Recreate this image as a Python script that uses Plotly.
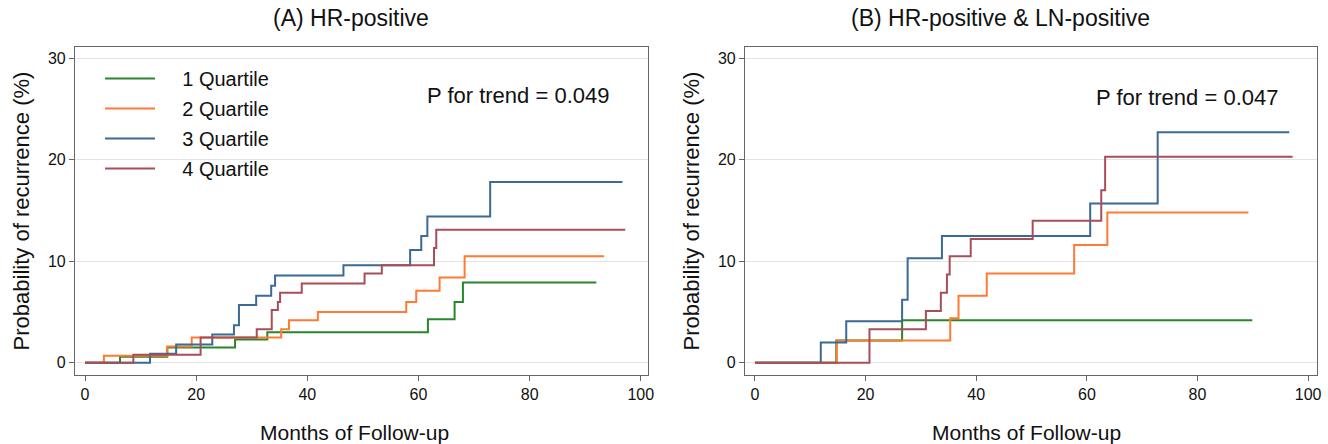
import plotly.graph_objects as go

# ---------------- data ----------------
series_names = ["1 Quartile", "2 Quartile", "3 Quartile", "4 Quartile"]
series_colors = ["#2a862a", "#ff7a33", "#3a6a96", "#a84e58"]

# Panel A: HR-positive  (event times in months, cumulative recurrence %)
a_q1_t = [0, 6.3, 14.8, 27.0, 32.8, 61.7, 66.5, 68.0]
a_q1_v = [0, 0.6, 1.5, 2.3, 3.0, 4.3, 6.0, 7.9]
a_q1_end = 92.0
a_q2_t = [0, 3.4, 14.8, 19.2, 35.3, 36.7, 41.9, 57.8, 59.6, 63.8, 68.3]
a_q2_v = [0, 0.7, 1.6, 2.5, 3.3, 4.2, 5.0, 6.0, 7.1, 8.4, 10.5]
a_q2_end = 93.4
a_q3_t = [0, 11.7, 16.4, 22.9, 26.8, 27.7, 30.8, 33.5, 34.2, 46.5, 58.5, 60.5, 61.6, 72.9]
a_q3_v = [0, 0.9, 1.8, 2.8, 3.7, 5.7, 6.6, 7.6, 8.6, 9.6, 11.1, 12.5, 14.4, 17.8]
a_q3_end = 96.7
a_q4_t = [0, 8.7, 20.8, 30.9, 33.6, 34.7, 35.1, 39.0, 50.3, 53.4, 62.8, 63.2]
a_q4_v = [0, 0.8, 2.5, 3.3, 5.2, 6.0, 6.9, 7.8, 8.8, 9.6, 11.3, 13.1]
a_q4_end = 97.2

# Panel B: HR-positive & LN-positive
b_q1_t = [0, 14.7, 26.6]
b_q1_v = [0, 2.2, 4.2]
b_q1_end = 89.9
b_q2_t = [0, 14.8, 35.3, 36.8, 41.9, 57.7, 63.7]
b_q2_v = [0, 2.2, 4.4, 6.6, 8.8, 11.6, 14.8]
b_q2_end = 89.2
b_q3_t = [0, 11.9, 16.5, 26.6, 27.6, 33.8, 60.6, 72.8]
b_q3_v = [0, 2.0, 4.1, 6.2, 10.3, 12.5, 15.7, 22.7]
b_q3_end = 96.6
b_q4_t = [0, 20.7, 30.9, 33.6, 34.7, 35.2, 39.0, 50.2, 62.6, 63.3]
b_q4_v = [0, 3.3, 5.1, 6.9, 8.7, 10.5, 12.2, 14.0, 17.0, 20.3]
b_q4_end = 97.2

panel_titles = ["(A) HR-positive", "(B) HR-positive & LN-positive"]
p_texts = ["P for trend = 0.049", "P for trend = 0.047"]
x_ticks = [0, 20, 40, 60, 80, 100]
y_ticks = [0, 10, 20, 30]
x_title = "Months of Follow-up"
y_title = "Probability of recurrence (%)"

panel_a = [(a_q1_t, a_q1_v, a_q1_end), (a_q2_t, a_q2_v, a_q2_end),
           (a_q3_t, a_q3_v, a_q3_end), (a_q4_t, a_q4_v, a_q4_end)]
panel_b = [(b_q1_t, b_q1_v, b_q1_end), (b_q2_t, b_q2_v, b_q2_end),
           (b_q3_t, b_q3_v, b_q3_end), (b_q4_t, b_q4_v, b_q4_end)]

FONT = "Liberation Sans, Arial, sans-serif"
TXT = "#111111"
NBSP = "\u00a0"
fig = go.Figure()

for pi, (panel, xa, ya) in enumerate([(panel_a, "x", "y"), (panel_b, "x2", "y2")]):
    for si, (t, v, end) in enumerate(panel):
        fig.add_trace(go.Scatter(
            x=list(t) + [end], y=list(v) + [v[-1]],
            mode="lines", line=dict(color=series_colors[si], width=2, shape="hv"),
            name=NBSP * 4 + series_names[si], legendgroup=series_names[si],
            showlegend=(pi == 0), xaxis=xa, yaxis=ya, hoverinfo="skip"))

W, H = 1328, 444
left_dom = [75 / W, 648 / W]
right_dom = [745 / W, 1317 / W]
y_dom = [1 - 375 / H, 1 - 47 / H]

axis_common = dict(showline=True, linecolor="#666666", linewidth=1.2, mirror=True,
                   ticks="outside", ticklen=5, tickcolor="#666666",
                   tickfont=dict(family=FONT, size=16, color=TXT),
                   zeroline=False, automargin=False)
xcommon = dict(axis_common, tickvals=x_ticks, showgrid=False)
ycommon = dict(axis_common, tickvals=y_ticks, showgrid=True, gridcolor="#e3e3e3", gridwidth=1,
               range=[-1.2, 31.1],
               title=dict(text=y_title, font=dict(family=FONT, size=22, color=TXT), standoff=12))

fig.update_layout(
    width=W, height=H, margin=dict(l=0, r=0, t=0, b=0),
    paper_bgcolor="white", plot_bgcolor="white",
    xaxis=dict(xcommon, domain=left_dom, range=[-1.8, 101.3], anchor="y"),
    yaxis=dict(ycommon, domain=y_dom, anchor="x"),
    xaxis2=dict(xcommon, domain=right_dom, range=[-1.8, 101.6], anchor="y2"),
    yaxis2=dict(ycommon, domain=y_dom, anchor="x2"),
    showlegend=True,
    legend=dict(x=100 / W, y=1 - 59 / H, xanchor="left", yanchor="top",
                bgcolor="rgba(0,0,0,0)", tracegroupgap=1, itemwidth=50,
                font=dict(family=FONT, size=20, color=TXT)),
    font=dict(family=FONT),
)

# panel titles
for cx, txt in zip([351, 1000], panel_titles):
    fig.add_annotation(x=cx / W, y=1 - 18 / H, xref="paper", yref="paper",
                       text=txt, showarrow=False, xanchor="center", yanchor="middle",
                       font=dict(family=FONT, size=23, color=TXT))
# x-axis titles
for cx in [354, 1026]:
    fig.add_annotation(x=cx / W, y=1 - 432 / H, xref="paper", yref="paper",
                       text=x_title, showarrow=False, xanchor="center", yanchor="middle",
                       font=dict(family=FONT, size=21, color=TXT))
# P for trend
for cx, cy, txt in zip([518, 1187], [95, 97], p_texts):
    fig.add_annotation(x=cx / W, y=1 - cy / H, xref="paper", yref="paper",
                       text=txt, showarrow=False, xanchor="center", yanchor="middle",
                       font=dict(family=FONT, size=22, color=TXT))

fig.write_html("out.html", config={"displayModeBar": False},
               post_script="document.body.style.margin='0';")
